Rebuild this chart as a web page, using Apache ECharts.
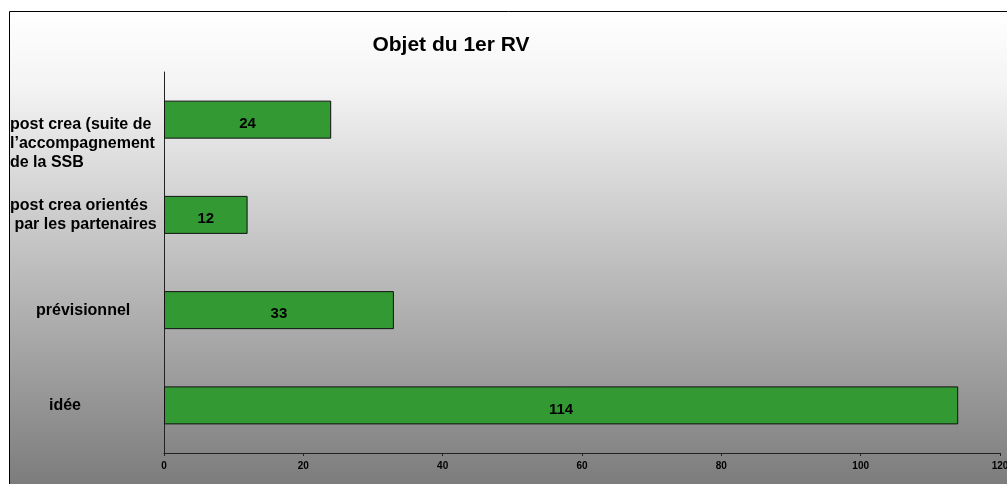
<!DOCTYPE html>
<html>
<head>
<meta charset="utf-8">
<script src="https://cdn.jsdelivr.net/npm/echarts@6/dist/echarts.min.js"></script>
<style>
  html, body { margin: 0; padding: 0; background: #fff; }
  #chart { width: 1007px; height: 484px; }
</style>
</head>
<body>
<div id="chart"></div>
<script>
// categories bottom -> top
const categories = ['idée', 'prévisionnel', 'post crea orientés\n par les partenaires', 'post crea (suite de\nl\u2019accompagnement\nde la SSB']
const values = [114, 33, 12, 24]
const xTicks = [0, 20, 40, 60, 80, 100, 120]

const chart = echarts.init(document.getElementById('chart'))

const labelPads = [[0, 0, 0, 39], [0, 0, 0, 26], [0, 0, 0, 0], [0, 0, 0, 0]]

chart.setOption({
  backgroundColor: '#ffffff',
  textStyle: { fontFamily: 'Liberation Sans, Arial, sans-serif' },
  graphic: [
    {
      type: 'rect',
      z: -10,
      shape: { x: 9.5, y: 11.5, width: 1010, height: 490 },
      style: {
        stroke: '#000',
        lineWidth: 1,
        fill: new echarts.graphic.LinearGradient(0, 0, 0, 1, [
          { offset: 0, color: '#ffffff' },
          { offset: 0.15, color: '#f4f4f4' },
          { offset: 1, color: '#777777' }
        ])
      }
    }
  ],
  title: {
    text: 'Objet du 1er RV',
    left: 446,
    textAlign: 'center',
    top: 30,
    textStyle: { fontSize: 21, fontWeight: 'bold', color: '#000' }
  },
  grid: { left: 164, right: 7, top: 72, bottom: 31, outerBoundsMode: 'none', containLabel: false },
  xAxis: {
    type: 'value',
    min: 0,
    max: 120,
    interval: 20,
    axisLine: { show: true, lineStyle: { color: '#222', width: 1 } },
    axisTick: { show: true, length: 3, lineStyle: { color: '#222' } },
    splitLine: { show: false },
    axisLabel: {
      color: '#000',
      fontSize: 10,
      fontWeight: 'bold',
      margin: 8,
      formatter: v => xTicks.includes(v) ? String(v) : ''
    }
  },
  yAxis: {
    type: 'category',
    data: categories.map((c, i) => ({
      value: c,
      textStyle: { padding: labelPads[i], align: 'left' }
    })),
    axisLine: { show: true, lineStyle: { color: '#222', width: 1 } },
    axisTick: { show: false },
    axisLabel: {
      color: '#000',
      fontSize: 16,
      fontWeight: 'bold',
      align: 'left',
      margin: 154,
      lineHeight: 19,
      // the top label sits lower than its bar in the original
      formatter: (v, i) => i === 3 ? '{s| }\n' + v : v,
      rich: { s: { lineHeight: 48, fontSize: 2 } }
    }
  },
  series: [
    {
      type: 'bar',
      data: values,
      barWidth: 38,
      itemStyle: { color: '#339933', borderColor: '#111', borderWidth: 1 },
      label: {
        show: true,
        position: 'inside',
        color: '#000',
        fontSize: 15,
        fontWeight: 'bold',
        offset: [0, 4]
      }
    }
  ]
})
</script>
</body>
</html>
